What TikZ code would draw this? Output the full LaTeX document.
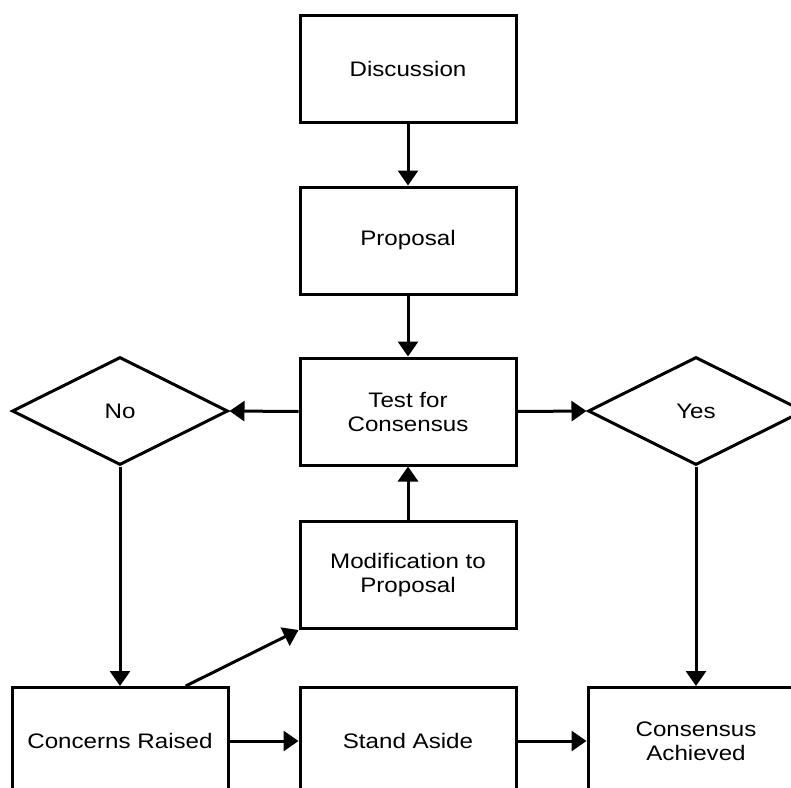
\documentclass[tikz,border=0pt]{standalone}
\usepackage{fontspec}
\setmainfont{Liberation Sans}[FakeStretch=1.15]
\usetikzlibrary{arrows.meta,shapes.geometric,calc}
\begin{document}
\begin{tikzpicture}[x=1pt,y=-1pt,
 lbl/.style={font=\fontsize{21}{24}\selectfont},
 box/.style={draw,line width=3pt,rectangle,minimum width=216pt,minimum height=107pt,inner sep=0pt,align=center,lbl},
 dia/.style={draw,line width=3pt,diamond,minimum width=216pt,minimum height=108pt,inner sep=0pt,lbl},
 arr/.style={line width=3pt,-{Triangle[length=15pt,width=20pt]}}]
\useasboundingbox (0,0) rectangle (791,787);
\clip (0,0) rectangle (791,787);
\node[box] (disc) at (408,68.5) {Discussion};
\node[box] (prop) at (408,240.5) {Proposal};
\node[box] (test) at (408,411.5) {Test for\\Consensus};
\node[box] (mod) at (408,575) {Modification to\\Proposal};
\node[box] (conc) at (120,741) {Concerns Raised};
\node[box] (stand) at (408,741) {Stand Aside};
\node[box] (ach) at (696,741) {Consensus\\Achieved};
\node[dia] (no) at (120,411) {No};
\node[dia] (yes) at (696,411) {Yes};
\coordinate (cstart) at ($(conc.north west)!0.8!(conc.north east)$);
\draw[arr] (disc.south) -- (prop.north);
\draw[arr] (prop.south) -- (test.north);
\draw[arr] (test.west) -- (no.east);
\draw[arr] (test.east) -- (yes.west);
\draw[arr] (mod.north) -- (test.south);
\draw[arr] (no.south) -- (conc.north);
\draw[arr] (yes.south) -- (ach.north);
\draw[arr] (cstart) -- (mod.south west);
\draw[arr] (conc.east) -- (stand.west);
\draw[arr] (stand.east) -- (ach.west);
\end{tikzpicture}
\end{document}
